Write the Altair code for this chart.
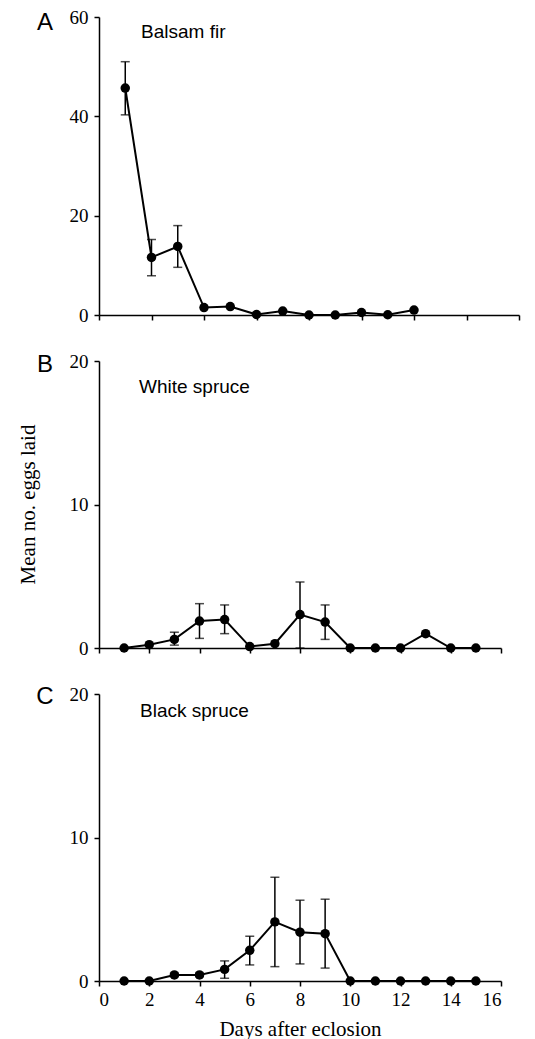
import altair as alt
import pandas as pd

# ---------------- data ----------------
days_a = [1, 2, 3, 4, 5, 6, 7, 8, 9, 10, 11, 12]
mean_a = [45.7, 11.6, 13.8, 1.5, 1.7, 0.1, 0.8, 0.0, 0.0, 0.5, 0.05, 1.0]
err_days_a = [1, 2, 3]
err_low_a = [40.3, 7.9, 9.6]
err_high_a = [51.0, 15.2, 18.0]

days_b = [1, 2, 3, 4, 5, 6, 7, 8, 9, 10, 11, 12, 13, 14, 15]
mean_b = [0.0, 0.23, 0.6, 1.88, 1.98, 0.1, 0.3, 2.33, 1.81, 0.0, 0.0, 0.0, 1.0, 0.0, 0.0]
err_days_b = [3, 4, 5, 8, 9]
err_low_b = [0.2, 0.67, 1.0, 0.0, 0.6]
err_high_b = [1.1, 3.09, 3.0, 4.6, 3.0]

days_c = [1, 2, 3, 4, 5, 6, 7, 8, 9, 10, 11, 12, 13, 14, 15]
mean_c = [0.0, 0.0, 0.42, 0.42, 0.81, 2.14, 4.12, 3.4, 3.3, 0.0, 0.0, 0.0, 0.0, 0.0, 0.0]
err_days_c = [3, 4, 5, 6, 7, 8, 9]
err_low_c = [0.3, 0.3, 0.19, 1.12, 1.0, 1.19, 0.9]
err_high_c = [0.55, 0.55, 1.4, 3.12, 7.23, 5.63, 5.7]

x_ticks = [0, 2, 4, 6, 8, 10, 12, 14, 16]
y_ticks_a = [0, 20, 40, 60]
y_ticks_bc = [0, 10, 20]

SERIF = "Liberation Serif"
SANS = "Liberation Sans"


def panel(days, mean, edays, elo, ehi, ymax, yticks, w, h, letter, letter_dy, name,
          name_dx, name_dy, last=False, ytitle=None):
    df = pd.DataFrame({"day": days, "mean": mean})
    de = pd.DataFrame({"day": edays, "lo": elo, "hi": ehi})

    if last:
        xaxis = alt.Axis(values=x_ticks, title="Days after eclosion", labelPadding=4,
                         titlePadding=9, titleFontSize=21, titleFont=SERIF,
                         titleFontWeight="normal", titleColor="black")
    else:
        xaxis = alt.Axis(values=x_ticks, labels=False, title=None)

    xs = alt.X("day:Q", scale=alt.Scale(domain=[0, 16], nice=False), axis=xaxis)
    ys = alt.Y("mean:Q", scale=alt.Scale(domain=[0, ymax], nice=False),
               axis=alt.Axis(values=yticks, title=None))

    base = alt.Chart(df).encode(x=xs, y=ys)
    line = base.mark_line(color="black", strokeWidth=2)
    pts = base.mark_point(filled=True, color="black", size=90, opacity=1)

    ebase = alt.Chart(de)
    rule = ebase.mark_rule(color="black", strokeWidth=1.5).encode(
        x=alt.X("day:Q"), y=alt.Y("lo:Q"), y2="hi:Q")
    cap_hi = ebase.mark_tick(color="black", thickness=1.5, size=9, orient="horizontal").encode(
        x="day:Q", y="hi:Q")
    cap_lo = ebase.mark_tick(color="black", thickness=1.5, size=9, orient="horizontal").encode(
        x="day:Q", y="lo:Q")

    lab = alt.Chart(pd.DataFrame({"t": [letter]})).mark_text(
        font=SANS, fontSize=24, color="black", align="center", baseline="middle"
    ).encode(x=alt.value(-54), y=alt.value(letter_dy), text="t:N")
    sp = alt.Chart(pd.DataFrame({"t": [name]})).mark_text(
        font=SANS, fontSize=19, color="black", align="left", baseline="middle"
    ).encode(x=alt.value(name_dx), y=alt.value(name_dy), text="t:N")

    layers = [line, rule, cap_hi, cap_lo, pts, lab, sp]
    if ytitle:
        yt = alt.Chart(pd.DataFrame({"t": [ytitle]})).mark_text(
            font=SERIF, fontSize=21, color="black", align="center", baseline="middle",
            angle=270
        ).encode(x=alt.value(-70), y=alt.value(h / 2), text="t:N")
        layers.append(yt)
    return alt.layer(*layers).properties(width=w, height=h)


pa = panel(days_a, mean_a, err_days_a, err_low_a, err_high_a, 60, y_ticks_a,
           420, 298, "A", 6, "Balsam fir", 42, 15)
pb = panel(days_b, mean_b, err_days_b, err_low_b, err_high_b, 20, y_ticks_bc,
           402, 287, "B", 4, "White spruce", 40, 26, ytitle="Mean no. eggs laid")
pc = panel(days_c, mean_c, err_days_c, err_low_c, err_high_c, 20, y_ticks_bc,
           402, 287, "C", 3, "Black spruce", 41, 17, last=True)

chart = alt.vconcat(pa, pb, pc, spacing=46, bounds="flush").properties(
    padding={"left": 10, "top": 0, "right": 5, "bottom": 0}
).configure_axis(
    grid=False, domainColor="black", domainWidth=1.5, tickColor="black", tickWidth=1.5,
    tickSize=5, labelColor="black", labelFont=SERIF, labelFontSize=19, labelPadding=6
).configure_view(stroke=None)

chart.save("out.html", embed_options={"renderer": "svg", "actions": False})
